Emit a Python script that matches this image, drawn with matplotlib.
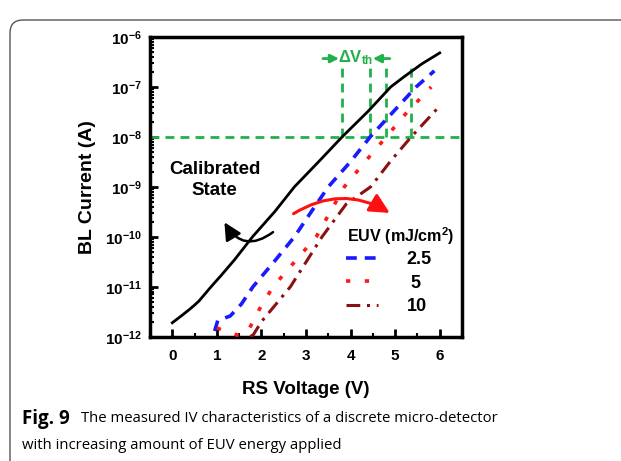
import matplotlib

matplotlib.use("Agg")

import matplotlib.pyplot as plt
import numpy as np
from matplotlib.lines import Line2D
from matplotlib.patches import FancyBboxPatch
from matplotlib.ticker import FixedLocator, LogLocator, NullFormatter

# --- data -----------------------------------------------------------------
calib_v = [0.0, 0.2, 0.4, 0.5, 0.6, 0.87, 1.1, 1.4, 1.8, 2.3, 2.74, 3.3, 3.81,
           4.4, 4.9, 5.2, 5.6, 6.0]
calib_i = [1.9e-12, 2.6e-12, 3.6e-12, 4.3e-12, 5.2e-12, 1e-11, 1.7e-11, 3.5e-11,
           1e-10, 3.2e-10, 1e-9, 3.3e-9, 1e-8, 3.3e-8, 1e-7, 1.6e-7, 2.9e-7, 4.8e-7]

euv25_v = [0.95, 1.02, 1.3, 1.55, 1.81, 2.3, 2.74, 3.1, 3.5, 4.0, 4.44, 5.0, 5.47, 5.88]
euv25_i = [1.3e-12, 2.1e-12, 2.6e-12, 4.5e-12, 1e-11, 3.3e-11, 1e-10, 3e-10, 1e-9,
           3.2e-9, 1e-8, 3.5e-8, 1e-7, 2.1e-7]

euv5_v = [1.0, 1.17, 1.5, 1.7, 1.95, 2.26, 2.75, 3.23, 3.86, 4.3, 4.8, 5.25, 5.81]
euv5_i = [1.5e-12, 1.3e-12, 1.05e-12, 1.3e-12, 3.5e-12, 1e-11, 3.2e-11, 1e-10, 1e-9,
          3e-9, 1e-8, 3e-8, 1e-7]

euv10_v = [1.75, 1.82, 2.0, 2.65, 3.36, 3.9, 4.45, 4.9, 5.36, 5.96]
euv10_i = [1e-12, 1.1e-12, 2e-12, 1e-11, 1e-10, 4.5e-10, 1e-9, 3.3e-9, 1e-8, 3.8e-8]

vth_v = [3.81, 4.44, 4.80, 5.36]
ref_current = 1e-8
vth_top = 2.7e-7

legend_labels = ["2.5", " 5", "10"]
y_decades = [-12, -11, -10, -9, -8, -7, -6]
x_ticks = [0, 1, 2, 3, 4, 5, 6]

GREEN = "#22b04a"
BLUE = "#1a1aff"
RED = "#ff1a1a"
DARKRED = "#8b1010"

plt.rcParams["font.family"] = ["Liberation Sans", "DejaVu Sans"]
plt.rcParams["font.weight"] = "bold"
plt.rcParams["axes.labelweight"] = "bold"
plt.rcParams["mathtext.fontset"] = "custom"
plt.rcParams["mathtext.rm"] = "Liberation Sans:bold"
plt.rcParams["mathtext.bf"] = "Liberation Sans:bold"
plt.rcParams["mathtext.it"] = "Liberation Sans:bold"

W, H = 621, 461
fig = plt.figure(figsize=(W / 100, H / 100), dpi=100)

# rounded frame around figure + caption
frame = FancyBboxPatch((0.10, -0.5), 7.0, 4.41 + 0.5,
                       boxstyle="round,pad=0,rounding_size=0.13",
                       transform=fig.dpi_scale_trans, fc="none", ec="#555555",
                       lw=1.0, clip_on=False)
fig.patches.append(frame)

ax = fig.add_axes([150 / W, 1 - 336.7 / H, (462 - 150) / W, (336.7 - 37) / H])
ax.set_yscale("log")
ax.set_xlim(-0.5, 6.5)
ax.set_ylim(1e-12, 1e-6)

ax.plot(calib_v, calib_i, color="black", lw=2.0, zorder=4)
ax.plot(euv25_v, euv25_i, color=BLUE, lw=2.6, dashes=(3.0, 2.2), zorder=3)
ax.plot(euv5_v, euv5_i, color=RED, lw=2.6, dashes=(1.2, 4.0), zorder=3)
ax.plot(euv10_v, euv10_i, color=DARKRED, lw=2.2, dashes=(4.5, 2.2, 1.0, 2.2), zorder=3)

# threshold guides
ax.axhline(ref_current, color=GREEN, lw=2.0, dashes=(3.2, 2.2), zorder=2)
for v in vth_v:
    ax.plot([v, v], [ref_current, vth_top], color=GREEN, lw=2.0, dashes=(3.2, 2.2), zorder=2)
ax.annotate("", xy=(3.74, 3.7e-7), xytext=(3.38, 3.7e-7),
            arrowprops=dict(arrowstyle="-|>", color=GREEN, lw=2.0,
                            mutation_scale=12, shrinkA=0, shrinkB=0))
ax.annotate("", xy=(4.50, 3.7e-7), xytext=(4.88, 3.7e-7),
            arrowprops=dict(arrowstyle="-|>", color=GREEN, lw=2.0,
                            mutation_scale=12, shrinkA=0, shrinkB=0))
ax.text(4.12, 3.9e-7, r"$\Delta V_{th}$", color=GREEN, fontsize=12,
        ha="center", va="center")

# annotations
ax.text(0.95, 1.4e-9, "Calibrated\nState", fontsize=13.5, ha="center", va="center",
        linespacing=1.3)
ax.annotate("", xy=(1.17, 1.95e-10), xytext=(2.26, 1.24e-10),
            arrowprops=dict(arrowstyle="-|>", color="black", lw=1.8,
                            mutation_scale=26, shrinkA=0, shrinkB=0,
                            connectionstyle="arc3,rad=-0.55"))
ax.annotate("", xy=(4.88, 3.0e-10), xytext=(2.72, 2.9e-10),
            arrowprops=dict(arrowstyle="-|>", color="#ff1010", lw=2.2,
                            mutation_scale=30, shrinkA=0, shrinkB=0,
                            connectionstyle="arc3,rad=-0.3"))

# legend
handles = [
    Line2D([], [], color=BLUE, lw=2.6, dashes=(3.0, 2.2)),
    Line2D([], [], color=RED, lw=2.6, dashes=(1.2, 4.0)),
    Line2D([], [], color=DARKRED, lw=2.2, dashes=(4.5, 2.2, 1.0, 2.2)),
]
leg = ax.legend(handles, legend_labels, loc="upper left",
                bbox_to_anchor=(346 / W, 1 - 251 / H), bbox_transform=fig.transFigure,
                frameon=False, fontsize=13, handlelength=1.75, handletextpad=1.6,
                labelspacing=0.36, borderpad=0, borderaxespad=0)
fig.text(347 / W, 1 - 236 / H, r"EUV (mJ/$\mathrm{cm^2}$)", fontsize=11.6, ha="left",
         va="center")

# axes styling
for side in ax.spines.values():
    side.set_linewidth(2.5)
ax.yaxis.set_major_locator(FixedLocator([10.0 ** d for d in y_decades]))
ax.set_yticklabels([f"$10^{{{d}}}$" for d in y_decades])
ax.yaxis.set_minor_locator(LogLocator(base=10, subs=np.arange(2, 10)))
ax.yaxis.set_minor_formatter(NullFormatter())
ax.set_xticks(x_ticks)
ax.set_xticks(np.arange(-0.5, 6.6, 0.5), minor=True)
ax.tick_params(which="major", direction="in", length=6, width=2, labelsize=11, pad=6)
ax.tick_params(axis="x", which="major", pad=9)
ax.tick_params(which="minor", direction="in", length=3, width=1.5)
ax.tick_params(top=False, right=False, which="both")

ax.set_xlabel("RS Voltage (V)", fontsize=13.5, labelpad=13)
ax.set_ylabel("BL Current (A)", fontsize=14, labelpad=6)

# caption
fig.canvas.draw()
renderer = fig.canvas.get_renderer()
cap_font = ["Open Sans", "DejaVu Sans"]
t1 = fig.text(22 / W, 1 - 419 / H, "Fig. 9", family=cap_font, weight="bold",
              fontsize=13.5, va="center", ha="left")
bb = t1.get_window_extent(renderer)
fig.text((bb.x1 + 11) / W, 1 - 419 / H,
         "The measured IV characteristics of a discrete micro-detector",
         family=cap_font, weight="normal", fontsize=10.7, va="center", ha="left")
fig.text(22 / W, 1 - 445 / H, "with increasing amount of EUV energy applied",
         family=cap_font, weight="normal", fontsize=10.7, va="center", ha="left")

fig.savefig("out.png", dpi=100)
